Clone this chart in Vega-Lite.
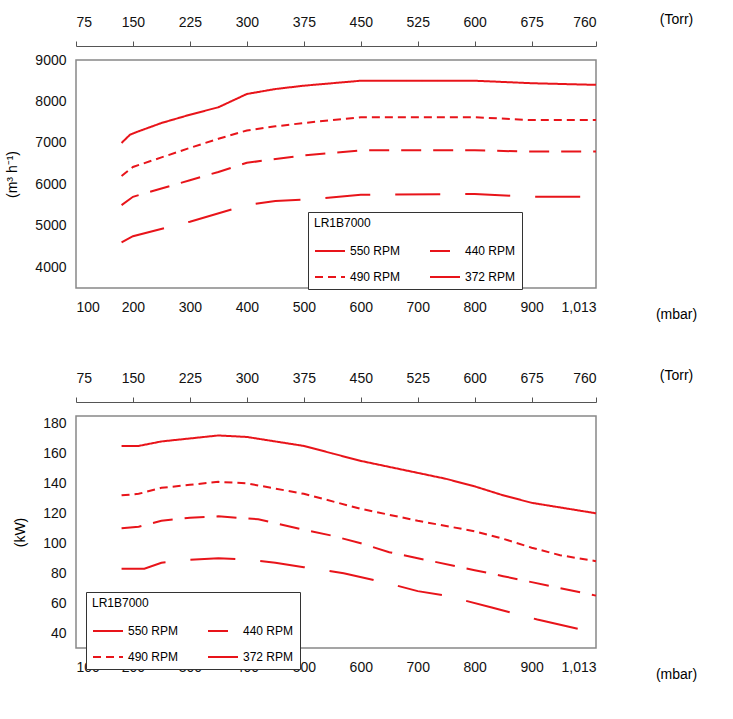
{
  "$schema": "https://vega.github.io/schema/vega-lite/v6.json",
  "background": "white",
  "padding": {"left": 5, "top": 11, "right": 5, "bottom": 5},
  "config": {
    "font": "Liberation Sans",
    "view": {"stroke": "#888888", "strokeWidth": 1.5},
    "axis": {"grid": false, "labelFontSize": 14, "labelColor": "#111", "domainColor": "#888", "tickColor": "#888", "titleFontWeight": "normal", "titleFontSize": 14},
    "legend": {"strokeColor": "#333", "fillColor": "white", "padding": 6, "titleFontWeight": "normal", "titleFontSize": 12, "labelFontSize": 12, "symbolType": "stroke", "symbolStrokeWidth": 2, "symbolSize": 900, "columnPadding": 25, "rowPadding": 4}
  },
  "datasets": {
    "flow": [
      {"rpm": "550 RPM", "mbar": 180, "v": 7000}, {"rpm": "550 RPM", "mbar": 195, "v": 7200}, {"rpm": "550 RPM", "mbar": 210, "v": 7280}, {"rpm": "550 RPM", "mbar": 250, "v": 7480}, {"rpm": "550 RPM", "mbar": 300, "v": 7680}, {"rpm": "550 RPM", "mbar": 350, "v": 7860}, {"rpm": "550 RPM", "mbar": 400, "v": 8180}, {"rpm": "550 RPM", "mbar": 450, "v": 8300}, {"rpm": "550 RPM", "mbar": 500, "v": 8380}, {"rpm": "550 RPM", "mbar": 600, "v": 8500}, {"rpm": "550 RPM", "mbar": 800, "v": 8500}, {"rpm": "550 RPM", "mbar": 900, "v": 8440}, {"rpm": "550 RPM", "mbar": 1013, "v": 8400},
      {"rpm": "490 RPM", "mbar": 180, "v": 6200}, {"rpm": "490 RPM", "mbar": 200, "v": 6420}, {"rpm": "490 RPM", "mbar": 250, "v": 6650}, {"rpm": "490 RPM", "mbar": 300, "v": 6880}, {"rpm": "490 RPM", "mbar": 350, "v": 7100}, {"rpm": "490 RPM", "mbar": 400, "v": 7300}, {"rpm": "490 RPM", "mbar": 450, "v": 7400}, {"rpm": "490 RPM", "mbar": 500, "v": 7480}, {"rpm": "490 RPM", "mbar": 600, "v": 7620}, {"rpm": "490 RPM", "mbar": 800, "v": 7620}, {"rpm": "490 RPM", "mbar": 900, "v": 7550}, {"rpm": "490 RPM", "mbar": 1013, "v": 7550},
      {"rpm": "440 RPM", "mbar": 180, "v": 5500}, {"rpm": "440 RPM", "mbar": 200, "v": 5700}, {"rpm": "440 RPM", "mbar": 250, "v": 5900}, {"rpm": "440 RPM", "mbar": 300, "v": 6100}, {"rpm": "440 RPM", "mbar": 350, "v": 6300}, {"rpm": "440 RPM", "mbar": 400, "v": 6520}, {"rpm": "440 RPM", "mbar": 500, "v": 6700}, {"rpm": "440 RPM", "mbar": 600, "v": 6820}, {"rpm": "440 RPM", "mbar": 800, "v": 6820}, {"rpm": "440 RPM", "mbar": 900, "v": 6790}, {"rpm": "440 RPM", "mbar": 1013, "v": 6790},
      {"rpm": "372 RPM", "mbar": 180, "v": 4600}, {"rpm": "372 RPM", "mbar": 200, "v": 4750}, {"rpm": "372 RPM", "mbar": 300, "v": 5100}, {"rpm": "372 RPM", "mbar": 400, "v": 5500}, {"rpm": "372 RPM", "mbar": 450, "v": 5600}, {"rpm": "372 RPM", "mbar": 520, "v": 5650}, {"rpm": "372 RPM", "mbar": 600, "v": 5750}, {"rpm": "372 RPM", "mbar": 800, "v": 5770}, {"rpm": "372 RPM", "mbar": 900, "v": 5700}, {"rpm": "372 RPM", "mbar": 1013, "v": 5700}
    ],
    "power": [
      {"rpm": "550 RPM", "mbar": 180, "v": 165}, {"rpm": "550 RPM", "mbar": 210, "v": 165}, {"rpm": "550 RPM", "mbar": 250, "v": 168}, {"rpm": "550 RPM", "mbar": 300, "v": 170}, {"rpm": "550 RPM", "mbar": 350, "v": 172}, {"rpm": "550 RPM", "mbar": 400, "v": 171}, {"rpm": "550 RPM", "mbar": 500, "v": 165}, {"rpm": "550 RPM", "mbar": 550, "v": 160}, {"rpm": "550 RPM", "mbar": 600, "v": 155}, {"rpm": "550 RPM", "mbar": 700, "v": 147}, {"rpm": "550 RPM", "mbar": 750, "v": 143}, {"rpm": "550 RPM", "mbar": 800, "v": 138}, {"rpm": "550 RPM", "mbar": 850, "v": 132}, {"rpm": "550 RPM", "mbar": 900, "v": 127}, {"rpm": "550 RPM", "mbar": 1013, "v": 120},
      {"rpm": "490 RPM", "mbar": 180, "v": 132}, {"rpm": "490 RPM", "mbar": 210, "v": 133}, {"rpm": "490 RPM", "mbar": 250, "v": 137}, {"rpm": "490 RPM", "mbar": 300, "v": 139}, {"rpm": "490 RPM", "mbar": 350, "v": 141}, {"rpm": "490 RPM", "mbar": 400, "v": 140}, {"rpm": "490 RPM", "mbar": 500, "v": 133}, {"rpm": "490 RPM", "mbar": 600, "v": 123}, {"rpm": "490 RPM", "mbar": 700, "v": 115}, {"rpm": "490 RPM", "mbar": 800, "v": 108}, {"rpm": "490 RPM", "mbar": 850, "v": 103}, {"rpm": "490 RPM", "mbar": 900, "v": 97}, {"rpm": "490 RPM", "mbar": 950, "v": 92}, {"rpm": "490 RPM", "mbar": 1013, "v": 88},
      {"rpm": "440 RPM", "mbar": 180, "v": 110}, {"rpm": "440 RPM", "mbar": 210, "v": 111}, {"rpm": "440 RPM", "mbar": 250, "v": 115}, {"rpm": "440 RPM", "mbar": 300, "v": 117}, {"rpm": "440 RPM", "mbar": 350, "v": 118}, {"rpm": "440 RPM", "mbar": 420, "v": 116}, {"rpm": "440 RPM", "mbar": 500, "v": 109}, {"rpm": "440 RPM", "mbar": 550, "v": 105}, {"rpm": "440 RPM", "mbar": 600, "v": 100}, {"rpm": "440 RPM", "mbar": 650, "v": 94}, {"rpm": "440 RPM", "mbar": 700, "v": 90}, {"rpm": "440 RPM", "mbar": 800, "v": 82}, {"rpm": "440 RPM", "mbar": 850, "v": 78}, {"rpm": "440 RPM", "mbar": 900, "v": 74}, {"rpm": "440 RPM", "mbar": 1013, "v": 65},
      {"rpm": "372 RPM", "mbar": 180, "v": 83}, {"rpm": "372 RPM", "mbar": 220, "v": 83}, {"rpm": "372 RPM", "mbar": 250, "v": 87}, {"rpm": "372 RPM", "mbar": 300, "v": 89}, {"rpm": "372 RPM", "mbar": 350, "v": 90}, {"rpm": "372 RPM", "mbar": 400, "v": 89}, {"rpm": "372 RPM", "mbar": 450, "v": 87}, {"rpm": "372 RPM", "mbar": 500, "v": 84}, {"rpm": "372 RPM", "mbar": 570, "v": 80}, {"rpm": "372 RPM", "mbar": 650, "v": 73}, {"rpm": "372 RPM", "mbar": 700, "v": 68}, {"rpm": "372 RPM", "mbar": 750, "v": 65}, {"rpm": "372 RPM", "mbar": 830, "v": 57}, {"rpm": "372 RPM", "mbar": 910, "v": 49}, {"rpm": "372 RPM", "mbar": 1013, "v": 40}
    ]
  },
  "vconcat": [
    {
      "width": 520,
      "height": 228,
      "data": {"name": "flow"},
      "resolve": {"axis": {"x": "independent"}},
      "layer": [
        {
          "mark": {"type": "line", "color": "#e8141a", "strokeWidth": 2},
          "encoding": {
            "x": {"field": "mbar", "type": "quantitative", "scale": {"domain": [100, 1013], "nice": false},
              "axis": {"orient": "bottom", "values": [100, 200, 300, 400, 500, 600, 700, 800, 900, 1013], "ticks": false, "domain": false, "labelPadding": 12, "title": "(mbar)", "titleX": 600, "titleY": 26, "titleBaseline": "middle"}},
            "y": {"field": "v", "type": "quantitative", "scale": {"domain": [3500, 9000], "nice": false},
              "axis": {"values": [4000, 5000, 6000, 7000, 8000, 9000], "format": "d", "ticks": false, "domain": false, "labelPadding": 10, "title": "(m³ h⁻¹)", "titlePadding": 15}},
            "strokeDash": {"field": "rpm", "type": "nominal",
              "scale": {"domain": ["550 RPM", "440 RPM", "490 RPM", "372 RPM"], "range": [[1, 0], [20, 12], [8, 5], [45, 25]]},
              "legend": {"title": "LR1B7000", "orient": "none", "legendX": 232, "legendY": 152, "columns": 2, "symbolStrokeColor": "#e8141a", "direction": "horizontal"}}
          }
        },
        {
          "mark": {"type": "rule", "opacity": 0},
          "encoding": {
            "x": {"field": "mbar", "type": "quantitative", "axis": {"orient": "top", "values": [100, 200, 300, 400, 500, 600, 700, 800, 900, 1013], "offset": 14, "domainColor": "#555", "tickColor": "#555", "tickSize": 5, "labelPadding": 12, "labelExpr": "datum.value == 1013 ? '760' : format(datum.value * 0.75, 'd')", "title": "(Torr)", "titleX": 600, "titleY": -27, "titleBaseline": "middle"}}
          }
        }
      ]
    },
    {
      "width": 520,
      "height": 232,
      "data": {"name": "power"},
      "resolve": {"axis": {"x": "independent"}},
      "layer": [
        {
          "mark": {"type": "line", "color": "#e8141a", "strokeWidth": 2},
          "encoding": {
            "x": {"field": "mbar", "type": "quantitative", "scale": {"domain": [100, 1013], "nice": false},
              "axis": {"orient": "bottom", "values": [100, 200, 300, 400, 500, 600, 700, 800, 900, 1013], "ticks": false, "domain": false, "labelPadding": 12, "title": "(mbar)", "titleX": 600, "titleY": 26, "titleBaseline": "middle"}},
            "y": {"field": "v", "type": "quantitative", "scale": {"domain": [30, 185], "nice": false},
              "axis": {"values": [40, 60, 80, 100, 120, 140, 160, 180], "ticks": false, "domain": false, "labelPadding": 10, "title": "(kW)", "titlePadding": 15}},
            "strokeDash": {"field": "rpm", "type": "nominal",
              "scale": {"domain": ["550 RPM", "440 RPM", "490 RPM", "372 RPM"], "range": [[1, 0], [20, 12], [8, 5], [45, 25]]},
              "legend": {"title": "LR1B7000", "orient": "none", "legendX": 10, "legendY": 176, "columns": 2, "symbolStrokeColor": "#e8141a", "direction": "horizontal"}}
          }
        },
        {
          "mark": {"type": "rule", "opacity": 0},
          "encoding": {
            "x": {"field": "mbar", "type": "quantitative", "axis": {"orient": "top", "values": [100, 200, 300, 400, 500, 600, 700, 800, 900, 1013], "offset": 14, "domainColor": "#555", "tickColor": "#555", "tickSize": 5, "labelPadding": 12, "labelExpr": "datum.value == 1013 ? '760' : format(datum.value * 0.75, 'd')", "title": "(Torr)", "titleX": 600, "titleY": -27, "titleBaseline": "middle"}}
          }
        }
      ]
    }
  ],
  "spacing": 45,
  "resolve": {"legend": {"strokeDash": "independent"}, "scale": {"strokeDash": "independent"}}
}
